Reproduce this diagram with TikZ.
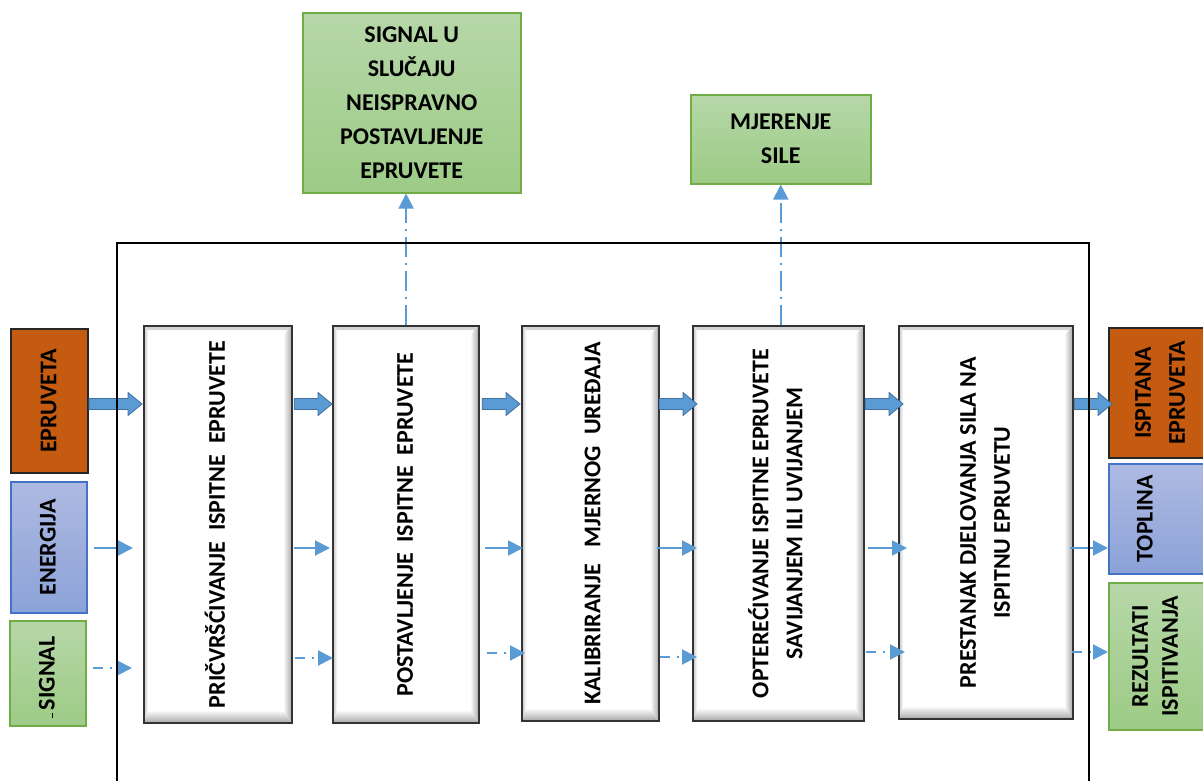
\documentclass[tikz,border=0pt]{standalone}
\usepackage{fontspec}
\setmainfont{Carlito}
\usetikzlibrary{arrows.meta,calc}
\definecolor{orangefill}{HTML}{C55A11}
\definecolor{bluetop}{HTML}{AEBAE2}
\definecolor{bluebot}{HTML}{8CA2D8}
\definecolor{blueedge}{HTML}{4472C4}
\definecolor{greentop}{HTML}{B6D7A8}
\definecolor{greenbot}{HTML}{9DCB86}
\definecolor{greenedge}{HTML}{70AD47}
\definecolor{arrowblue}{HTML}{5B9BD5}
\definecolor{arrowdark}{HTML}{41719C}
\newcommand\txtfont{\fontsize{24}{34}\selectfont\bfseries}
\newcommand\vtext[1]{\rotatebox{90}{\begin{tabular}{@{}c@{}}#1\end{tabular}}}
\begin{document}
\begin{tikzpicture}[x=1pt,y=-1pt,
  base/.style={inner sep=0pt, anchor=north west, font=\txtfont, text=black},
  procbox/.style={base, draw=black!80, line width=2.2pt, fill=white,
    path picture={
      \shade[top color=gray!35, bottom color=white]
        (path picture bounding box.north west) -- (path picture bounding box.north east)
        -- ([xshift=-4pt,yshift=-4pt]path picture bounding box.north east)
        -- ([xshift=4pt,yshift=-4pt]path picture bounding box.north west) -- cycle;
      \shade[left color=gray!45, right color=white]
        (path picture bounding box.north west) -- ([xshift=4pt,yshift=-4pt]path picture bounding box.north west)
        -- ([xshift=4pt,yshift=13pt]path picture bounding box.south west)
        -- (path picture bounding box.south west) -- cycle;
      \shade[left color=white, right color=gray!70]
        (path picture bounding box.north east) -- ([xshift=-9pt,yshift=-9pt]path picture bounding box.north east)
        -- ([xshift=-9pt,yshift=13pt]path picture bounding box.south east)
        -- (path picture bounding box.south east) -- cycle;
      \shade[top color=white, bottom color=gray!70]
        (path picture bounding box.south west) -- ([xshift=4pt,yshift=13pt]path picture bounding box.south west)
        -- ([xshift=-9pt,yshift=13pt]path picture bounding box.south east)
        -- (path picture bounding box.south east) -- cycle;
    }},
  orangebox/.style={base, draw=black!85, line width=2pt, fill=orangefill},
  bluebox/.style={base, draw=blueedge, line width=1.5pt, top color=bluetop, bottom color=bluebot},
  greenbox/.style={base, draw=greenedge, line width=1.5pt, top color=greentop, bottom color=greenbot},
  blockarrow/.style={draw=arrowdark, line width=0.8pt, fill=arrowblue,
    to path={let \p1=(\tikztostart), \p2=(\tikztotarget) in
      (\x1,\y1+5.5) -- (\x2-14,\y1+5.5) -- (\x2-14,\y1+11.5) -- (\x2,\y1)
      -- (\x2-14,\y1-11.5) -- (\x2-14,\y1-5.5) -- (\x1,\y1-5.5) -- cycle}},
  flowarrow/.style={draw=arrowblue, line width=2pt, -{Triangle[width=15pt,length=15pt]}},
  sigarrow/.style={flowarrow, dash pattern=on 10pt off 7pt on 2pt off 7pt},
  sigarrowv/.style={flowarrow, dash pattern=on 20pt off 6pt on 2pt off 6pt},
  frameline/.style={draw=black, line width=2pt}
]
\useasboundingbox (0,0) rectangle (1203,780);

% row levels
\coordinate (r1) at (0,404);
\coordinate (r2) at (0,548);
\coordinate (r3) at (0,655);

% process boxes
\node[procbox, minimum width=148pt, minimum height=397pt] (b1) at (143,325)
  {\vtext{PRIČVRŠĆIVANJE~ ISPITNE~ EPRUVETE}};
\node[procbox, minimum width=146pt, minimum height=397pt] (b2) at (332,325)
  {\vtext{POSTAVLJENJE~ ISPITNE~ EPRUVETE}};
\node[procbox, minimum width=137pt, minimum height=395pt] (b3) at (521,325)
  {\kern6pt\vtext{KALIBRIRANJE~~ MJERNOG~ UREĐAJA}};
\node[procbox, minimum width=171pt, minimum height=395pt] (b4) at (692,325)
  {\vtext{OPTEREĆIVANJE ISPITNE EPRUVETE\\ SAVIJANJEM ILI UVIJANJEM}};
\node[procbox, minimum width=174pt, minimum height=393pt] (b5) at (898,325)
  {\vtext{PRESTANAK DJELOVANJA SILA NA\\ ISPITNU EPRUVETU}};

% inputs
\node[orangebox, minimum width=77pt, minimum height=144pt] (ep) at (10,328) {\vtext{EPRUVETA}};
\node[bluebox, minimum width=76pt, minimum height=131pt] (en) at (10,481) {\vtext{ENERGIJA}};
\node[greenbox, minimum width=76pt, minimum height=105pt] (sg) at (9,620) {\vtext{SIGNAL}};
\draw[line width=1pt] (52.5,713) -- (52.5,718);

% outputs
\node[orangebox, minimum width=104pt, minimum height=130pt] (isp) at (1108,327) {\vtext{ISPITANA\\ EPRUVETA}};
\node[bluebox, minimum width=104pt, minimum height=110pt] (top) at (1108,463) {\vtext{TOPLINA}\kern30pt};
\node[greenbox, minimum width=104pt, minimum height=147pt] (rez) at (1108,582)
  {\fontsize{24}{30}\selectfont\vtext{REZULTATI\\ ISPITIVANJA}\kern8pt};

% top outputs
\node[greenbox, minimum width=218pt, minimum height=180pt, align=center] (sig) at (302,12)
  {SIGNAL U\\ SLUČAJU\\ NEISPRAVNO\\ POSTAVLJENJE\\ EPRUVETE};
\node[greenbox, minimum width=180pt, minimum height=89pt, align=center] (mj) at (690,94)
  {MJERENJE\\ SILE};

% material flow
\draw[blockarrow] (ep.east |- r1) to ($(b1.west |- r1)+(-1,0)$);
\draw[blockarrow] ($(b1.east |- r1)+(1,0)$) to (b2.west |- r1);
\draw[blockarrow] ($(b2.east |- r1)+(2,0)$) to ($(b3.west |- r1)+(-1,0)$);
\draw[blockarrow] ($(b3.east |- r1)+(-1,0)$) to ($(b4.west |- r1)+(5,0)$);
\draw[blockarrow] (b4.east |- r1) to ($(b5.west |- r1)+(5,0)$);
\draw[blockarrow] (b5.east |- r1) to ($(isp.west |- r1)+(4,0)$);

% energy flow
\draw[flowarrow, shorten <=6pt, shorten >=10pt] (en.east |- r2) -- (b1.west |- r2);
\draw[flowarrow, shorten <=1pt, shorten >=2pt] (b1.east |- r2) -- (b2.west |- r2);
\draw[flowarrow, shorten <=5pt, shorten >=-2pt] (b2.east |- r2) -- (b3.west |- r2);
\draw[flowarrow, shorten <=-3pt, shorten >=-5pt] (b3.east |- r2) -- (b4.west |- r2);
\draw[flowarrow, shorten <=3pt, shorten >=-9pt] (b4.east |- r2) -- (b5.west |- r2);
\draw[flowarrow, shorten <=-4pt] (b5.east |- r2) -- (top.west |- r2);

% signal flow
\draw[sigarrow, shorten <=6pt, shorten >=11pt] ($(sg.east |- r3)+(0,13)$) -- ($(b1.west |- r3)+(0,13)$);
\draw[sigarrow, shorten <=2pt, shorten >=-1pt] ($(b1.east |- r3)+(0,3)$) -- ($(b2.west |- r3)+(0,3)$);
\draw[sigarrow, shorten <=7pt, shorten >=-4pt] ($(b2.east |- r3)+(0,-2)$) -- ($(b3.west |- r3)+(0,-2)$);
\draw[sigarrow, shorten <=0pt, shorten >=-5pt] ($(b3.east |- r3)+(0,2)$) -- ($(b4.west |- r3)+(0,2)$);
\draw[sigarrow, shorten <=1pt, shorten >=-7pt] ($(b4.east |- r3)+(0,-3)$) -- ($(b5.west |- r3)+(0,-3)$);
\draw[sigarrow, shorten <=-2pt] ($(b5.east |- r3)+(0,-3)$) -- ($(rez.west |- r3)+(0,-3)$);

% vertical outputs
\draw[sigarrowv] (b2.north) -- (b2.north |- sig.south);
\draw[sigarrowv] (mj.south |- b4.north) -- (mj.south);

% system boundary
\draw[frameline] (117,790) -- (117,243) -- (1089,243) -- (1089,790);
\end{tikzpicture}
\end{document}
